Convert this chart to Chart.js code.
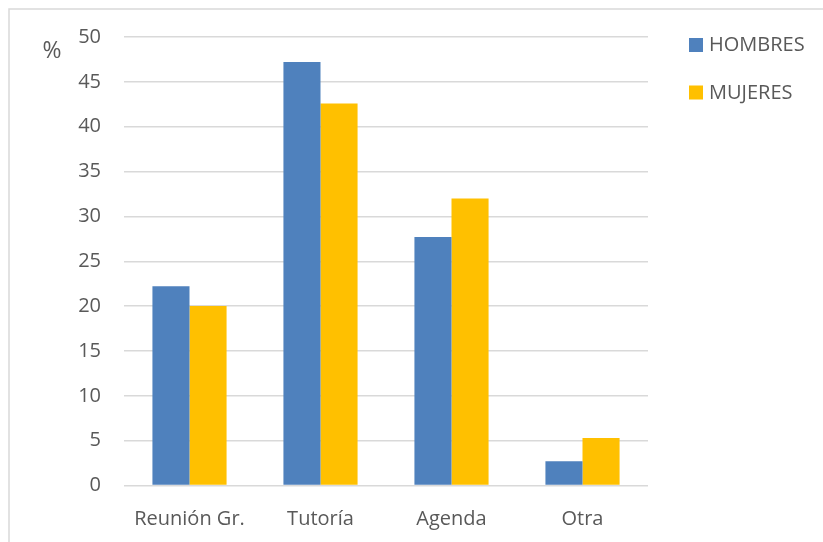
<!DOCTYPE html>
<html>
<head>
<meta charset="utf-8">
<script src="https://cdn.jsdelivr.net/npm/chart.js@4.4.0/dist/chart.umd.min.js"></script>
<style>
    html, body { margin: 0; padding: 0; background: #fff; }
    #wrap { width: 823px; height: 542px; position: relative; }
</style>
</head>
<body>
<div id="wrap"><canvas id="chart" width="823" height="542"></canvas></div>
<script>
// ===== datos =====
const categories = ['Reunión Gr.', 'Tutoría', 'Agenda', 'Otra'];
const hombres = [22.2, 47.2, 27.7, 2.7];
const mujeres = [20.0, 42.6, 32.0, 5.3];
const seriesNames = ['HOMBRES', 'MUJERES'];
const yTicks = [0, 5, 10, 15, 20, 25, 30, 35, 40, 45, 50];

const FONT = "'Open Sans', 'Noto Sans', sans-serif";
const TEXT_COLOR = '#595959';
const GRID_COLOR = '#d9d9d9';

// marco gris, unidad "%" y leyenda propia a la derecha
const decorPlugin = {
    id: 'decor',
    beforeDraw(chart) {
        const ctx = chart.ctx;
        ctx.save();
        ctx.strokeStyle = GRID_COLOR;
        ctx.lineWidth = 1.5;
        ctx.beginPath();
        ctx.moveTo(9, chart.height);
        ctx.lineTo(9, 9);
        ctx.lineTo(chart.width, 9);
        ctx.stroke();
        ctx.restore();
    },
    afterDraw(chart) {
        const ctx = chart.ctx;
        ctx.save();
        ctx.fillStyle = TEXT_COLOR;
        ctx.font = '23px ' + FONT;
        ctx.textBaseline = 'middle';
        ctx.textAlign = 'center';
        ctx.fillText('%', 52, 51);

        ctx.font = '20px ' + FONT;
        ctx.textAlign = 'left';
        chart.data.datasets.forEach((ds, i) => {
            const y = 38 + i * 47.5;
            ctx.fillStyle = ds.backgroundColor;
            ctx.fillRect(689, y, 14, 14);
            ctx.fillStyle = TEXT_COLOR;
            ctx.fillText(ds.label, 709, y + 7.5);
        });
        ctx.restore();
    }
};

new Chart(document.getElementById('chart').getContext('2d'), {
    type: 'bar',
    data: {
        labels: categories,
        datasets: [
            { label: seriesNames[0], data: hombres, backgroundColor: '#4f81bd' },
            { label: seriesNames[1], data: mujeres, backgroundColor: '#ffc000' }
        ]
    },
    options: {
        responsive: false,
        animation: false,
        layout: { padding: { top: 37, right: 175, left: 0, bottom: 0 } },
        datasets: {
            bar: { barPercentage: 1, categoryPercentage: 0.566, borderWidth: 0 }
        },
        plugins: {
            legend: { display: false },
            tooltip: { enabled: false }
        },
        scales: {
            x: {
                grid: { display: false, drawTicks: false },
                border: { display: false },
                ticks: { color: TEXT_COLOR, font: { family: FONT, size: 20 }, padding: 22 },
                afterFit(scale) { scale.height = 56.5; }
            },
            y: {
                min: 0,
                max: 50,
                afterBuildTicks(scale) { scale.ticks = yTicks.map(v => ({ value: v })); },
                grid: { color: GRID_COLOR, lineWidth: 1.5, drawTicks: false },
                border: { display: false },
                ticks: { color: TEXT_COLOR, font: { family: FONT, size: 20 }, padding: 23 },
                afterFit(scale) { scale.width = 124; }
            }
        }
    },
    plugins: [decorPlugin]
});
</script>
</body>
</html>
